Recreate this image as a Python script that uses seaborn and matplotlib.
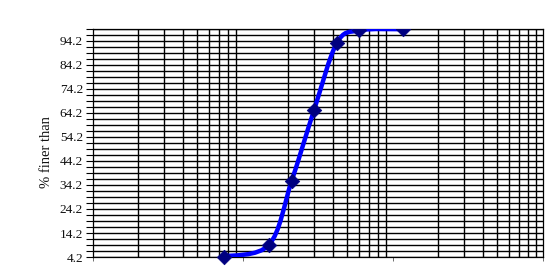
import numpy as np
import pandas as pd
import seaborn as sns
import matplotlib
matplotlib.use("Agg")
import matplotlib.pyplot as plt
from matplotlib.path import Path
from matplotlib.patches import PathPatch, Rectangle
from matplotlib.ticker import FixedLocator, NullFormatter, LogLocator

# data: sieve size (mm) and % finer than
sizes = [0.075, 0.15, 0.212, 0.3, 0.425, 0.6, 1.18]
finer = [4.4, 9.3, 35.7, 65.5, 93.3, 98.6, 99.1]
ytick_labels = ["4.2", "14.2", "24.2", "34.2", "44.2", "54.2", "64.2", "74.2", "84.2", "94.2"]

sns.set_style("white")
plt.rcParams["font.family"] = ["Liberation Serif", "DejaVu Serif"]

fig = plt.figure(figsize=(5.48, 2.68), dpi=100)
ax = fig.add_axes([0.169, 0.041, 0.821, 0.851])

ax.set_xscale("log")
ax.set_xlim(0.01, 10)
ax.set_ylim(4.2, 99.2)

# y ticks
yt = [float(t) for t in ytick_labels]
ax.yaxis.set_major_locator(FixedLocator(yt))
ax.set_yticklabels(ytick_labels)
ax.yaxis.set_minor_locator(FixedLocator(np.arange(4.2, 99.3, 2.5)))
ax.tick_params(axis="y", which="both", direction="out", length=5, width=0.8,
               color="black", labelsize=9.5, labelcolor="#111111", pad=2, left=True)
# x ticks: decades only, no labels
ax.xaxis.set_major_locator(LogLocator(base=10, numticks=10))
ax.xaxis.set_minor_locator(LogLocator(base=10, subs=np.arange(2, 10), numticks=50))
ax.xaxis.set_major_formatter(NullFormatter())
ax.xaxis.set_minor_formatter(NullFormatter())
ax.tick_params(axis="x", which="major", direction="out", length=3, width=0.6, color="#555555", bottom=True)
ax.tick_params(axis="x", which="minor", length=0, bottom=True)

ax.grid(True, which="minor", axis="both", color="black", linewidth=1.0)
ax.grid(True, which="major", axis="y", color="black", linewidth=1.0)
ax.grid(False, which="major", axis="x")
ax.set_axisbelow(True)
for s in ax.spines.values():
    s.set_color("black")
    s.set_linewidth(0.9)

# smoothed curve (Catmull-Rom style Bezier, in log-x space)
u = np.log10(np.array(sizes))
v = np.array(finer)
P = np.column_stack([u, v])
n = len(P)
verts = [P[0]]
codes = [Path.MOVETO]
for i in range(n - 1):
    p0 = P[i - 1] if i > 0 else P[i]
    p1 = P[i]
    p2 = P[i + 1]
    p3 = P[i + 2] if i + 2 < n else P[i + 1]
    c1 = p1 + (p2 - p0) / 6.0
    c2 = p2 - (p3 - p1) / 6.0
    verts += [c1, c2, p2]
    codes += [Path.CURVE4] * 3
verts = np.array(verts)
verts[:, 0] = 10 ** verts[:, 0]
patch = PathPatch(Path(verts, codes), facecolor="none", edgecolor="#0000FF",
                  linewidth=3.2, zorder=3, capstyle="round")
ax.add_patch(patch)

df = pd.DataFrame({"size": sizes, "finer": finer})
sns.scatterplot(data=df, x="size", y="finer", marker="D", s=55,
                color="#000080", edgecolor="#000080", linewidth=0.5,
                ax=ax, zorder=4)
clip = Rectangle((0, -0.1), 1, 1.1, transform=ax.transAxes, visible=False)
ax.add_patch(clip)
for c in ax.collections:
    c.set_clip_path(clip)

ax.set_xlabel("")
ax.set_ylabel("% finer than", fontsize=10.5, color="#111111")
ax.yaxis.set_label_coords(-0.088, 0.46)

fig.savefig("out.png", dpi=100)
